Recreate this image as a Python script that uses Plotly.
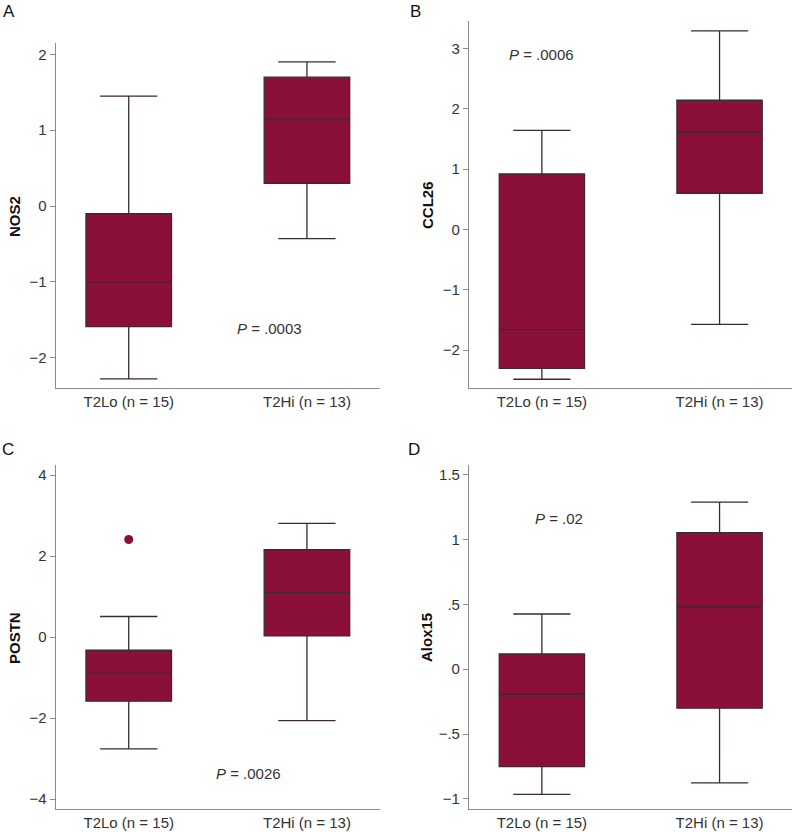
import plotly.graph_objects as go

groups = ["T2Lo (n = 15)", "T2Hi (n = 13)"]

# Panel A: NOS2
nos2_low = [-2.28, -0.43]
nos2_q1 = [-1.59, 0.30]
nos2_med = [-1.00, 1.15]
nos2_q3 = [-0.10, 1.70]
nos2_high = [1.45, 1.90]

# Panel B: CCL26
ccl26_low = [-2.48, -1.57]
ccl26_q1 = [-2.30, 0.60]
ccl26_med = [-1.66, 1.61]
ccl26_q3 = [0.92, 2.14]
ccl26_high = [1.64, 3.29]

# Panel C: POSTN
postn_low = [-2.76, -2.06]
postn_q1 = [-1.58, 0.03]
postn_med = [-0.89, 1.10]
postn_q3 = [-0.32, 2.16]
postn_high = [0.51, 2.81]
postn_outlier_group = ["T2Lo (n = 15)"]
postn_outlier_value = [2.41]

# Panel D: Alox15
alox_low = [-0.965, -0.877]
alox_q1 = [-0.751, -0.30]
alox_med = [-0.193, 0.48]
alox_q3 = [0.118, 1.053]
alox_high = [0.426, 1.288]

panels = [
    ("NOS2", nos2_low, nos2_q1, nos2_med, nos2_q3, nos2_high),
    ("CCL26", ccl26_low, ccl26_q1, ccl26_med, ccl26_q3, ccl26_high),
    ("POSTN", postn_low, postn_q1, postn_med, postn_q3, postn_high),
    ("Alox15", alox_low, alox_q1, alox_med, alox_q3, alox_high),
]

letters = ["A", "B", "C", "D"]
p_texts = ["<i>P</i> = .0003", "<i>P</i> = .0006", "<i>P</i> = .0026", "<i>P</i> = .02"]
p_x = [0.79, 0.0, 0.67, 0.095]
p_y = [-1.62, 2.90, -3.36, 1.164]

y_ranges = [[-2.40, 2.15], [-2.63, 3.457], [-4.25, 4.25], [-1.08, 1.575]]
y_tickvals = [[-2, -1, 0, 1, 2], [-2, -1, 0, 1, 2, 3], [-4, -2, 0, 2, 4],
              [-1, -0.5, 0, 0.5, 1, 1.5]]
y_ticktext = [["−2", "−1", "0", "1", "2"], ["−2", "−1", "0", "1", "2", "3"],
              ["−4", "−2", "0", "2", "4"], ["−1", "−.5", "0", ".5", "1", "1.5"]]

x_domains = [[0.0701, 0.4786], [0.5907, 0.998], [0.0701, 0.4786], [0.5907, 0.998]]
y_domains = [[0.5337, 0.9483], [0.5333, 0.9751], [0.0273, 0.4411], [0.0273, 0.4411]]

FILL = "#8A1039"
EDGE = "#3a2a2e"
AXIS = "#8a8a8a"
TXT = "#333333"
FONT = "Liberation Sans, Arial, sans-serif"

fig = go.Figure()

for i, (name, lo, q1, med, q3, hi) in enumerate(panels):
    ax = "" if i == 0 else str(i + 1)
    fig.add_trace(go.Box(
        x=groups, lowerfence=lo, q1=q1, median=med, q3=q3, upperfence=hi,
        fillcolor=FILL, line=dict(color=EDGE, width=1.3),
        whiskerwidth=0.67, width=0.48, boxpoints=False,
        xaxis="x" + ax, yaxis="y" + ax, showlegend=False, hoverinfo="skip",
    ))
    fig.layout["xaxis" + ax] = dict(
        domain=x_domains[i], anchor="y" + ax, type="category",
        range=[-0.41, 1.41], showline=True, linecolor=AXIS, linewidth=1.2,
        ticks="", showgrid=False, zeroline=False,
        tickfont=dict(family=FONT, size=15, color=TXT),
    )
    fig.layout["yaxis" + ax] = dict(
        domain=y_domains[i], anchor="x" + ax, range=y_ranges[i],
        tickvals=y_tickvals[i], ticktext=y_ticktext[i],
        showline=True, linecolor=AXIS, linewidth=1.2,
        ticks="outside", ticklen=5, tickcolor=AXIS, tickwidth=1,
        showgrid=False, zeroline=False,
        tickfont=dict(family=FONT, size=15, color=TXT),
    )
    fig.add_annotation(
        x=p_x[i], y=p_y[i], xref="x" + ax, yref="y" + ax, text=p_texts[i],
        showarrow=False, font=dict(family=FONT, size=15, color=TXT),
    )

fig.add_trace(go.Scatter(
    x=postn_outlier_group, y=postn_outlier_value, mode="markers",
    marker=dict(color=FILL, size=9), xaxis="x3", yaxis="y3",
    showlegend=False, hoverinfo="skip",
))

# Y-axis titles
title_pos = [(14, 217), (427, 205), (14, 638), (426, 638)]
for i, (name, *_rest) in enumerate(panels):
    px, py = title_pos[i]
    fig.add_annotation(
        x=px / 794, y=1 - py / 832, xref="paper", yref="paper",
        text="<b>" + name + "</b>", textangle=-90, showarrow=False,
        font=dict(family=FONT, size=15, color="#111111"),
        xanchor="center", yanchor="middle",
    )

# Panel letters
letter_pos = [(9, 12), (415, 11), (8, 449), (414, 449)]
for i, L in enumerate(letters):
    px, py = letter_pos[i]
    fig.add_annotation(
        x=px / 794, y=1 - py / 832, xref="paper", yref="paper",
        text=L, showarrow=False, xanchor="center", yanchor="middle",
        font=dict(family=FONT, size=17, color="#111111"),
    )

fig.update_layout(
    width=794, height=832, margin=dict(l=0, r=0, t=0, b=0),
    plot_bgcolor="white", paper_bgcolor="white",
)

fig.write_html(
    "out.html",
    config={"displayModeBar": False},
    post_script="document.body.style.margin='0';document.body.style.overflow='hidden';",
)
